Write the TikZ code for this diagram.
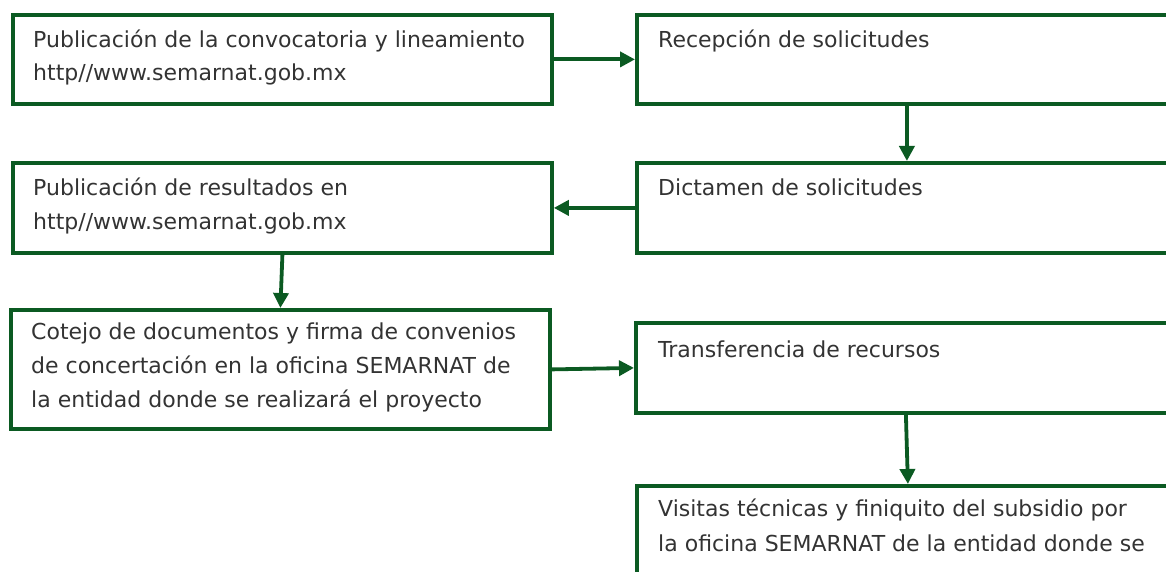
\documentclass[tikz,border=0pt]{standalone}
\usepackage{fontspec}
\setmainfont{DejaVu Sans}
\usetikzlibrary{arrows.meta,positioning,calc}

\definecolor{semgreen}{HTML}{0B5A22}

\begin{document}
\begin{tikzpicture}[x=1pt,y=-1pt,
    box/.style={draw=semgreen, line width=3.8pt, rectangle, anchor=north west, inner sep=0pt},
    txt/.style={anchor=base west, align=left, inner sep=0pt, text=black!80,
      font=\fontsize{22}{33}\selectfont},
    flow/.style={draw=semgreen, line width=3.8pt, -{Triangle[length=15pt,width=15pt]}}]
    \useasboundingbox (0,0) rectangle (1166,572);
    \clip (0,0) rectangle (1166,572);
    % boxes
    \node[box, minimum width=539, minimum height=89] (b1) at (11,13) {};
    \node[box, minimum width=535, minimum height=89] (b2) at (635,13) {};
    \node[box, minimum width=535, minimum height=90] (b3) at (635,161) {};
    \node[box, minimum width=539, minimum height=90] (b4) at (11,161) {};
    \node[box, minimum width=539, minimum height=119] (b5) at (9,308) {};
    \node[box, minimum width=536, minimum height=90] (b6) at (634,321) {};
    \node[box, minimum width=535, minimum height=120] (b7) at (635,484) {};
    % texts, placed at the baseline of their last line
    \node[txt] (t1) at (33,81) {Publicación de la convocatoria y lineamiento\\http//www.semarnat.gob.mx};
    \node[txt] (t2) at (658,48) {Recepción de solicitudes};
    \node[txt] (t3) at (658,196) {Dictamen de solicitudes};
    \node[txt] (t4) at (33,229) {Publicación de resultados en\\http//www.semarnat.gob.mx};
    \node[txt, font=\fontsize{22}{34}\selectfont] (t5) at (31,407) {Cotejo de documentos y firma de convenios\\de concertación en la oficina SEMARNAT de\\la entidad donde se realizará el proyecto};
    \node[txt] (t6) at (658,357) {Transferencia de recursos};
    \node[txt, font=\fontsize{22}{35}\selectfont] (t7) at (658,551) {Visitas técnicas y finiquito del subsidio por\\la oficina SEMARNAT de la entidad donde se};
    % arrows
    \draw[flow] (b1.east) -- (b2.west);
    \draw[flow] ([xshift=2.5pt]b2.south) -- ([xshift=2.5pt]b3.north);
    \draw[flow] (b3.west) -- (b4.east);
    \draw[flow] (b4.south) -- (b5.north);
    \draw[flow] (b5.east) -- (b6.west);
    \draw[flow] ([xshift=2pt]b6.south) -- ([xshift=3.5pt]b7.north);
\end{tikzpicture}
\end{document}
